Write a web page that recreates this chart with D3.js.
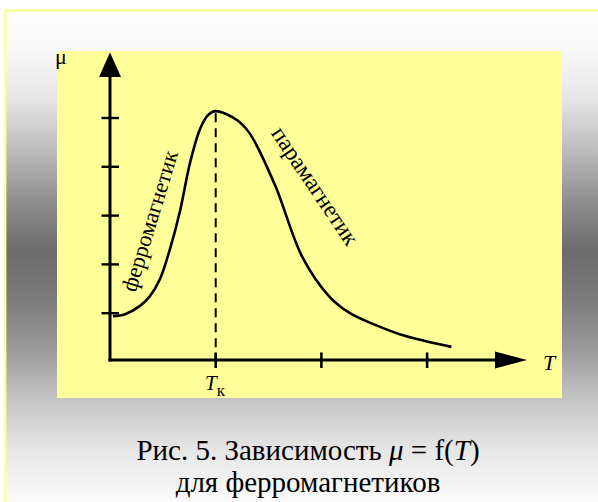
<!DOCTYPE html>
<html><head><meta charset="utf-8">
<script src="https://cdn.jsdelivr.net/npm/d3@7"></script>
<style>body{margin:0;background:#fff}svg{display:block}</style>
</head><body>
<script>
// Temperature (in units of the Curie temperature) and relative permeability
const temps = [0.028, 0.142, 0.284, 0.378, 0.473, 0.568, 0.662, 0.757, 0.851, 0.927, 1.00, 1.20, 1.32, 1.56, 1.82, 2.08, 2.27, 2.51, 2.74, 2.98, 3.23];
const mu    = [0.94, 0.98, 1.15, 1.35, 1.70, 2.32, 3.09, 4.08, 4.77, 5.06, 5.14, 4.96, 4.69, 3.63, 2.15, 1.33, 1.00, 0.76, 0.57, 0.43, 0.31];
const xTicks = [1, 2, 3];
const yTicks = [1, 2, 3, 4, 5];
const curieT = 1.0;

const W = 598, H = 502;
const svg = d3.select("body").append("svg").attr("width", W).attr("height", H);
const serif = "Liberation Serif, Times New Roman, DejaVu Serif, serif";

// page background gradient
const defs = svg.append("defs");
const grad = defs.append("linearGradient").attr("id", "bg").attr("x1", 0).attr("y1", 0).attr("x2", 0).attr("y2", 1);
[[0, "#ffffff"], [0.08, "#f8f8f8"], [0.18, "#e6e6e6"], [0.28, "#bebebe"], [0.385, "#909090"],
 [0.49, "#6b6b6b"], [0.59, "#7c7c7c"], [0.69, "#9a9a9a"], [0.79, "#c4c4c4"], [0.894, "#e6e6e6"], [1, "#fbfbfb"]]
  .forEach(([o, c]) => grad.append("stop").attr("offset", o).attr("stop-color", c));

svg.append("rect").attr("x", 5).attr("y", 10.5).attr("width", W - 5).attr("height", H - 10.5).attr("fill", "url(#bg)");
svg.append("path").attr("d", `M5.2,${H} V10.5 H${W}`).attr("fill", "none").attr("stroke", "#ffff99").attr("stroke-width", 2.4);

// plot panel
svg.append("rect").attr("x", 57).attr("y", 51).attr("width", 505).attr("height", 347).attr("fill", "#ffff99");

const x = d3.scaleLinear().domain([0, 1]).range([110, 215.7]);
const y = d3.scaleLinear().domain([0, 5]).range([362, 118]);
const ox = 110, oy = 360;

// axes with arrowheads
svg.append("line").attr("x1", ox).attr("y1", oy + 1.5).attr("x2", ox).attr("y2", 72).attr("stroke", "#000").attr("stroke-width", 3);
svg.append("line").attr("x1", ox - 1.5).attr("y1", oy).attr("x2", 500).attr("y2", oy).attr("stroke", "#000").attr("stroke-width", 3);
svg.append("path").attr("d", `M${ox},52.5 L${ox + 11},77 L${ox - 11},77 Z`).attr("fill", "#000");
svg.append("path").attr("d", `M527,${oy} L495,${oy - 8.5} L495,${oy + 8.5} Z`).attr("fill", "#000");

// tick marks
svg.append("g").selectAll("line").data(yTicks).join("line")
  .attr("x1", ox - 8.5).attr("x2", ox + 9).attr("y1", d => y(d)).attr("y2", d => y(d))
  .attr("stroke", "#000").attr("stroke-width", 2.4);
svg.append("g").selectAll("line").data(xTicks).join("line")
  .attr("x1", d => x(d)).attr("x2", d => x(d)).attr("y1", oy - 7.5).attr("y2", oy + 8)
  .attr("stroke", "#000").attr("stroke-width", 2.6);

// Curie temperature marker
const peakMu = d3.max(mu);
svg.append("line").attr("x1", x(curieT)).attr("x2", x(curieT)).attr("y1", y(peakMu) + 2).attr("y2", oy)
  .attr("stroke", "#000").attr("stroke-width", 2).attr("stroke-dasharray", "9,6");

// mu(T) curve
const pts = temps.map((t, i) => [t, mu[i]]);
svg.append("path").datum(pts)
  .attr("d", d3.line().x(d => x(d[0])).y(d => y(d[1])).curve(d3.curveCatmullRom.alpha(0.5)))
  .attr("fill", "none").attr("stroke", "#000").attr("stroke-width", 2.6);

// axis labels
svg.append("text").attr("x", 55).attr("y", 64).attr("font-family", serif).attr("font-size", 22).text("μ");
svg.append("text").attr("x", 543).attr("y", 370).attr("font-family", serif).attr("font-size", 22).attr("font-style", "italic").text("T");
const tk = svg.append("text").attr("x", 205).attr("y", 390).attr("font-family", serif).attr("font-size", 21);
tk.append("tspan").attr("font-style", "italic").text("T");
tk.append("tspan").attr("font-size", 17).attr("dy", 6).text("к");

// region labels
svg.append("text").attr("transform", "translate(150,221) rotate(-73)").attr("text-anchor", "middle").attr("dy", "0.32em")
  .attr("font-family", serif).attr("font-size", 22.5).text("ферромагнетик");
svg.append("text").attr("transform", "translate(315,186) rotate(56)").attr("text-anchor", "middle").attr("dy", "0.32em")
  .attr("font-family", serif).attr("font-size", 23.5).text("парамагнетик");

// caption
const c1 = svg.append("text").attr("x", 308).attr("y", 460).attr("text-anchor", "middle").attr("font-family", serif).attr("font-size", 29);
c1.append("tspan").text("Рис. 5. Зависимость ");
c1.append("tspan").attr("font-style", "italic").text("μ");
c1.append("tspan").text(" = f(");
c1.append("tspan").attr("font-style", "italic").text("T");
c1.append("tspan").text(")");
svg.append("text").attr("x", 308).attr("y", 492).attr("text-anchor", "middle").attr("font-family", serif).attr("font-size", 29)
  .text("для ферромагнетиков");
</script>
</body></html>
